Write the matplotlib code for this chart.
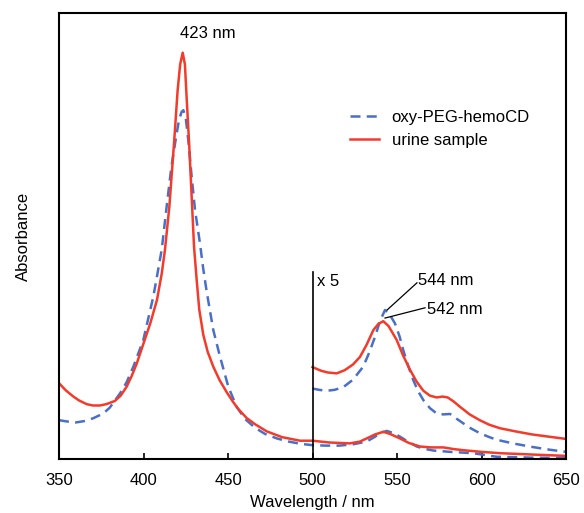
import matplotlib
matplotlib.use('Agg')
import matplotlib.pyplot as plt

plt.rcParams['font.family'] = ['Liberation Sans', 'DejaVu Sans']

# full spectra, 350-650 nm
wl_blue = [350, 355, 360, 365, 370, 376.2, 380, 386.1, 390, 394, 399.9, 405.8,
           408, 410.8, 413.7, 416.5, 419.2, 421, 422.5, 423.6, 425, 426.5, 428.5,
           430.5, 433.4, 435.4, 437.4, 441.3, 445.3, 450.2, 455.1, 460, 466, 472,
           479, 486, 493, 500, 508, 516, 524, 532, 537, 540, 543.9, 548, 551.8,
           556, 561.7, 566, 571.5, 581.4, 595, 609, 630, 650]
abs_blue = [0.087, 0.084, 0.082, 0.085, 0.091, 0.102, 0.115, 0.147, 0.172, 0.207,
            0.267, 0.364, 0.410, 0.470, 0.566, 0.655, 0.720, 0.760, 0.778, 0.782,
            0.765, 0.715, 0.633, 0.558, 0.484, 0.425, 0.375, 0.289, 0.229, 0.162,
            0.117, 0.090, 0.070, 0.056, 0.046, 0.039, 0.034, 0.031, 0.030, 0.030,
            0.033, 0.039, 0.050, 0.058, 0.063, 0.058, 0.050, 0.040, 0.028, 0.023,
            0.019, 0.016, 0.013, 0.005, 0.003, 0.002]

wl_red = [350, 354, 358.5, 362, 366.4, 370, 374.3, 378, 383, 386.5, 390, 393, 396,
          400, 404, 408, 410.8, 412.7, 415.3, 418.2, 420.2, 421.7, 423.2, 424.5,
          425.5, 427.1, 428.5, 429.9, 431.5, 433, 435.4, 438, 441.3, 445, 449.2,
          453, 456.1, 461, 466, 472.9, 482, 492.6, 500, 510, 522, 528, 532, 537,
          541.9, 546, 551.8, 557, 563.6, 570, 577.4, 584, 591.2, 600, 611, 630, 650]
abs_red = [0.170, 0.154, 0.140, 0.131, 0.123, 0.120, 0.120, 0.123, 0.130, 0.142,
           0.162, 0.186, 0.214, 0.259, 0.304, 0.357, 0.416, 0.469, 0.566, 0.715,
           0.827, 0.885, 0.911, 0.885, 0.812, 0.700, 0.588, 0.476, 0.400, 0.335,
           0.278, 0.240, 0.207, 0.177, 0.150, 0.128, 0.112, 0.092, 0.078, 0.062,
           0.049, 0.041, 0.041, 0.037, 0.035, 0.039, 0.046, 0.055, 0.061, 0.056,
           0.046, 0.036, 0.028, 0.026, 0.026, 0.022, 0.019, 0.016, 0.013, 0.010,
           0.007]

# x5 magnified visible region
wl_red5 = [500, 505, 509, 514.3, 519, 524, 528.1, 532, 536, 539, 541.9, 545, 549.8,
           553.5, 557.7, 561.5, 565.6, 569.5, 573.5, 577, 580, 583.5, 587.3, 593,
           599, 604.5, 610.9, 620, 630, 640, 650]
abs_red5 = [0.206, 0.198, 0.194, 0.192, 0.199, 0.212, 0.229, 0.256, 0.289, 0.303,
            0.309, 0.298, 0.267, 0.233, 0.200, 0.174, 0.153, 0.142, 0.138, 0.140,
            0.138, 0.129, 0.117, 0.100, 0.087, 0.077, 0.069, 0.062, 0.055, 0.050,
            0.045]

wl_blue5 = [500, 504, 508.4, 513, 518.2, 524, 530, 533.5, 537, 540, 542.9, 545.5,
            548.8, 551.5, 553.7, 556.5, 559.6, 562.5, 565.6, 569.5, 573.5, 577.5,
            581.4, 585, 589.2, 594, 599, 604, 609, 620, 630, 640, 650]
abs_blue5 = [0.158, 0.155, 0.153, 0.155, 0.161, 0.178, 0.207, 0.238, 0.274, 0.310,
             0.334, 0.325, 0.304, 0.275, 0.244, 0.210, 0.177, 0.152, 0.132, 0.114,
             0.102, 0.100, 0.101, 0.091, 0.080, 0.068, 0.058, 0.050, 0.043, 0.034,
             0.027, 0.021, 0.016]

xticks = [350, 400, 450, 500, 550, 600, 650]

blue = '#4a6fc9'
red = '#f23b2a'
fs = 12

fig = plt.figure(figsize=(5.84, 5.13), dpi=100)
ax = fig.add_axes([59 / 584, 54 / 513, 507 / 584, 446 / 513])

ax.plot(wl_blue, abs_blue, color=blue, lw=1.8, dashes=(4, 2.5), label='oxy-PEG-hemoCD')
ax.plot(wl_red, abs_red, color=red, lw=1.8, label='urine sample')
ax.plot(wl_blue5, abs_blue5, color=blue, lw=1.8, dashes=(4, 2.5))
ax.plot(wl_red5, abs_red5, color=red, lw=1.8)

ax.plot([500, 500], [0, 0.42], color='black', lw=1.2)
ax.text(502.7, 0.397, 'x 5', fontsize=fs, va='center', ha='left')

ax.text(421.6, 0.955, '423 nm', fontsize=fs, va='center', ha='left')

ax.plot([544.1, 561.8], [0.334, 0.395], color='black', lw=0.9)
ax.text(562.4, 0.401, '544 nm', fontsize=fs, va='center', ha='left')
ax.plot([542.9, 566.6], [0.316, 0.339], color='black', lw=0.9)
ax.text(567.8, 0.336, '542 nm', fontsize=fs, va='center', ha='left')

ax.set_xlim(350, 650)
ax.set_ylim(0, 1)
ax.set_xticks(xticks)
ax.set_yticks([])
ax.tick_params(axis='x', direction='in', length=4, width=1.2, labelsize=fs, pad=10)
for s in ax.spines.values():
    s.set_linewidth(1.5)

ax.set_xlabel('Wavelength / nm', fontsize=fs, labelpad=5)
ax.set_ylabel('Absorbance', fontsize=fs, labelpad=20)

ax.legend(loc='upper left', bbox_to_anchor=(0.574, 0.783), frameon=False,
          fontsize=fs, handlelength=1.75, handletextpad=0.75,
          labelspacing=0.5, borderpad=0, borderaxespad=0)

fig.savefig('out.png', dpi=100)
